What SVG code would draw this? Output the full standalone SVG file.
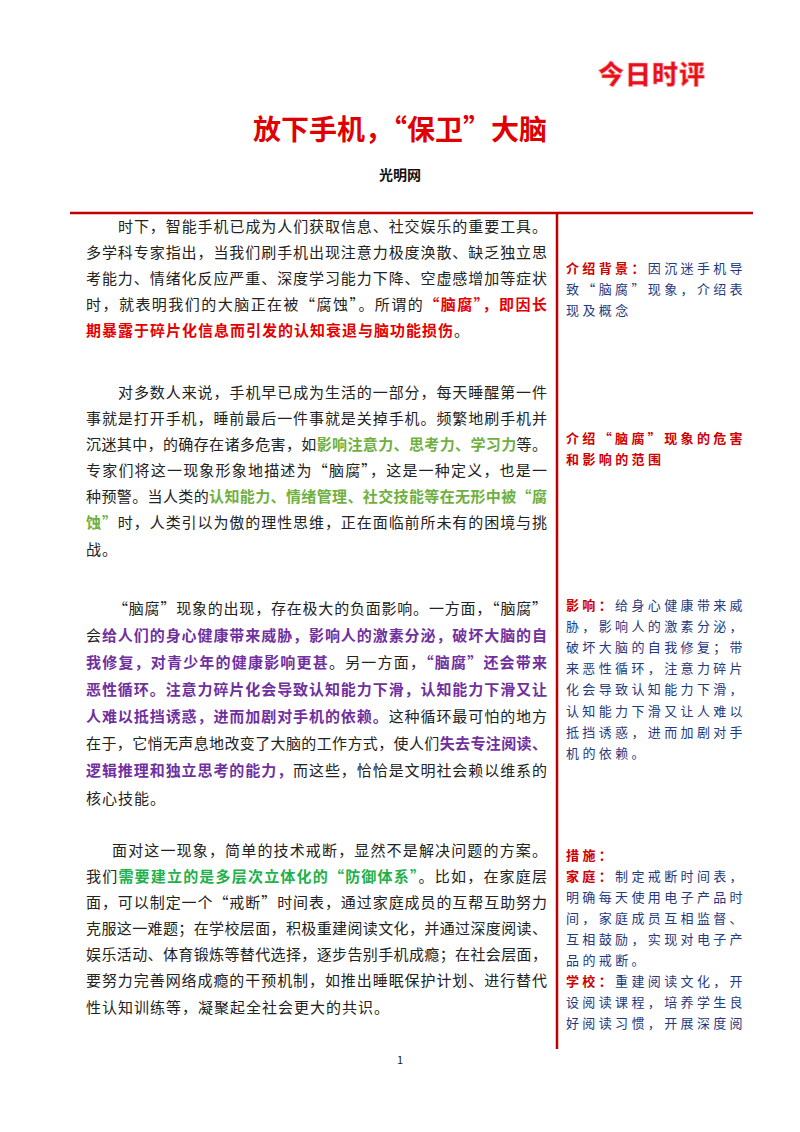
<svg xmlns="http://www.w3.org/2000/svg" width="800" height="1132" viewBox="0 0 800 1132">
<style>
text{font-family:"Noto Sans CJK SC","Liberation Serif",serif;}
.b{font-size:15px;fill:#222;letter-spacing:1px}
.n{font-size:13px;fill:#1f3a80;letter-spacing:3.4px}
.nr{fill:#d00000;font-weight:bold}
.r{fill:#e60000;font-weight:bold}
.g{fill:#70b040;font-weight:bold}
.g2{fill:#22b04a;font-weight:bold}
.p{fill:#7030a0;font-weight:bold}
</style>
<rect width="800" height="1132" fill="#fff"/>
<g id="header">
<text x="652" y="84" text-anchor="middle" font-size="26" font-weight="900" fill="#e8101a" letter-spacing="1" stroke="#f7b0b0" stroke-width="0.6">今日时评</text>
<text x="400" y="140" text-anchor="middle" font-size="28" font-weight="bold" fill="#e00000">放下手机，“保卫”大脑</text>
<text x="400" y="180" text-anchor="middle" font-size="14" font-weight="bold" fill="#111">光明网</text>
</g>
<g id="rules">
<line x1="70" y1="213" x2="753" y2="213" stroke="#c00000" stroke-width="2.5"/>
<line x1="557" y1="213" x2="557" y2="1049" stroke="#c00000" stroke-width="2.5"/>
</g>
<g id="para1">
<text class="b" x="118" y="232" textLength="430" lengthAdjust="spacing">时下，智能手机已成为人们获取信息、社交娱乐的重要工具。</text>
<text class="b" x="86" y="258" textLength="462" lengthAdjust="spacing">多学科专家指出，当我们刷手机出现注意力极度涣散、缺乏独立思</text>
<text class="b" x="86" y="284" textLength="462" lengthAdjust="spacing">考能力、情绪化反应严重、深度学习能力下降、空虚感增加等症状</text>
<text class="b" x="86" y="310" textLength="462" lengthAdjust="spacing">时，就表明我们的大脑正在被“腐蚀”。所谓的<tspan class="r">“脑腐”，即因长</tspan></text>
<text class="b" x="86" y="336"><tspan class="r">期暴露于碎片化信息而引发的认知衰退与脑功能损伤</tspan>。</text>
</g>
<g id="para2">
<text class="b" x="118" y="398" textLength="430" lengthAdjust="spacing">对多数人来说，手机早已成为生活的一部分，每天睡醒第一件</text>
<text class="b" x="86" y="424" textLength="462" lengthAdjust="spacing">事就是打开手机，睡前最后一件事就是关掉手机。频繁地刷手机并</text>
<text class="b" x="86" y="450" textLength="462" lengthAdjust="spacing">沉迷其中，的确存在诸多危害，如<tspan class="g">影响注意力、思考力、学习力</tspan>等。</text>
<text class="b" x="86" y="476" textLength="462" lengthAdjust="spacing">专家们将这一现象形象地描述为“脑腐”，这是一种定义，也是一</text>
<text class="b" x="86" y="502" textLength="462" lengthAdjust="spacing">种预警。当人类的<tspan class="g">认知能力、情绪管理、社交技能等在无形中被“腐</tspan></text>
<text class="b" x="86" y="528" textLength="462" lengthAdjust="spacing"><tspan class="g">蚀”</tspan>时，人类引以为傲的理性思维，正在面临前所未有的困境与挑</text>
<text class="b" x="86" y="555">战。</text>
</g>
<g id="para3">
<text class="b" x="113" y="614" textLength="435" lengthAdjust="spacing">“脑腐”现象的出现，存在极大的负面影响。一方面，“脑腐”</text>
<text class="b" x="86" y="641" textLength="462" lengthAdjust="spacing">会<tspan class="p">给人们的身心健康带来威胁，影响人的激素分泌，破坏大脑的自</tspan></text>
<text class="b" x="86" y="668" textLength="462" lengthAdjust="spacing"><tspan class="p">我修复，对青少年的健康影响更甚</tspan>。另一方面，<tspan class="p">“脑腐”还会带来</tspan></text>
<text class="b" x="86" y="695" textLength="462" lengthAdjust="spacing"><tspan class="p">恶性循环。注意力碎片化会导致认知能力下滑，认知能力下滑又让</tspan></text>
<text class="b" x="86" y="722" textLength="462" lengthAdjust="spacing"><tspan class="p">人难以抵挡诱惑，进而加剧对手机的依赖。</tspan>这种循环最可怕的地方</text>
<text class="b" x="86" y="749" textLength="462" lengthAdjust="spacing">在于，它悄无声息地改变了大脑的工作方式，使人们<tspan class="p">失去专注阅读、</tspan></text>
<text class="b" x="86" y="776" textLength="462" lengthAdjust="spacing"><tspan class="p">逻辑推理和独立思考的能力，</tspan>而这些，恰恰是文明社会赖以维系的</text>
<text class="b" x="86" y="804">核心技能。</text>
</g>
<g id="para4">
<text class="b" x="112" y="856" textLength="436" lengthAdjust="spacing">面对这一现象，简单的技术戒断，显然不是解决问题的方案。</text>
<text class="b" x="86" y="882" textLength="462" lengthAdjust="spacing">我们<tspan class="g2">需要建立的是多层次立体化的“防御体系”</tspan>。比如，在家庭层</text>
<text class="b" x="86" y="908" textLength="462" lengthAdjust="spacing">面，可以制定一个“戒断”时间表，通过家庭成员的互帮互助努力</text>
<text class="b" x="86" y="934" textLength="462" lengthAdjust="spacing">克服这一难题；在学校层面，积极重建阅读文化，并通过深度阅读、</text>
<text class="b" x="86" y="960" textLength="462" lengthAdjust="spacing">娱乐活动、体育锻炼等替代选择，逐步告别手机成瘾；在社会层面，</text>
<text class="b" x="86" y="986" textLength="462" lengthAdjust="spacing">要努力完善网络成瘾的干预机制，如推出睡眠保护计划、进行替代</text>
<text class="b" x="86" y="1013">性认知训练等，凝聚起全社会更大的共识。</text>
</g>
<g id="note1">
<text class="n" x="566" y="273" textLength="180" lengthAdjust="spacing"><tspan class="nr">介绍背景：</tspan>因沉迷手机导</text>
<text class="n" x="566" y="294" textLength="180" lengthAdjust="spacing">致“脑腐”现象，介绍表</text>
<text class="n" x="566" y="315">现及概念</text>
</g>
<g id="note2">
<text class="n nr" x="566" y="443" textLength="180" lengthAdjust="spacing">介绍“脑腐”现象的危害</text>
<text class="n nr" x="566" y="464">和影响的范围</text>
</g>
<g id="note3">
<text class="n" x="566" y="610" textLength="180" lengthAdjust="spacing"><tspan class="nr">影响：</tspan>给身心健康带来威</text>
<text class="n" x="566" y="631" textLength="180" lengthAdjust="spacing">胁，影响人的激素分泌，</text>
<text class="n" x="566" y="652" textLength="180" lengthAdjust="spacing">破坏大脑的自我修复；带</text>
<text class="n" x="566" y="673" textLength="180" lengthAdjust="spacing">来恶性循环，注意力碎片</text>
<text class="n" x="566" y="694" textLength="180" lengthAdjust="spacing">化会导致认知能力下滑，</text>
<text class="n" x="566" y="716" textLength="180" lengthAdjust="spacing">认知能力下滑又让人难以</text>
<text class="n" x="566" y="737" textLength="180" lengthAdjust="spacing">抵挡诱惑，进而加剧对手</text>
<text class="n" x="566" y="758">机的依赖。</text>
</g>
<g id="note4">
<text class="n nr" x="566" y="860">措施：</text>
<text class="n" x="566" y="881" textLength="180" lengthAdjust="spacing"><tspan class="nr">家庭：</tspan>制定戒断时间表，</text>
<text class="n" x="566" y="902" textLength="180" lengthAdjust="spacing">明确每天使用电子产品时</text>
<text class="n" x="566" y="923" textLength="180" lengthAdjust="spacing">间，家庭成员互相监督、</text>
<text class="n" x="566" y="944" textLength="180" lengthAdjust="spacing">互相鼓励，实现对电子产</text>
<text class="n" x="566" y="965">品的戒断。</text>
<text class="n" x="566" y="986" textLength="180" lengthAdjust="spacing"><tspan class="nr">学校：</tspan>重建阅读文化，开</text>
<text class="n" x="566" y="1007" textLength="180" lengthAdjust="spacing">设阅读课程，培养学生良</text>
<text class="n" x="566" y="1028" textLength="180" lengthAdjust="spacing">好阅读习惯，开展深度阅</text>
</g>
<text x="400" y="1064" text-anchor="middle" font-size="11" fill="#222" font-family="Liberation Serif, serif">1</text>
</svg>
